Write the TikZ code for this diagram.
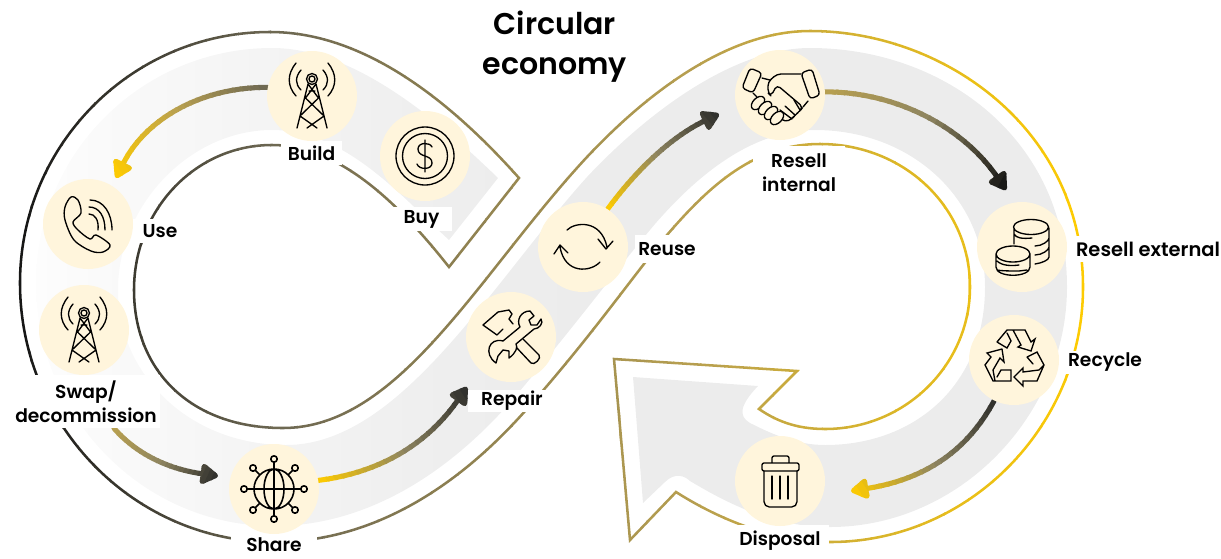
\documentclass[tikz,border=0pt]{standalone}
\usepackage{fontspec}
\setmainfont{Poppins}
\newfontfamily\lab{Poppins SemiBold}
\usetikzlibrary{arrows.meta,calc}
\pgfdeclarelayer{bg}\pgfsetlayers{bg,main}
\definecolor{cream}{HTML}{FFF5DC}
\definecolor{ga}{HTML}{141414}
\definecolor{gb}{HTML}{6C6752}
\definecolor{gc}{HTML}{B8A050}
\definecolor{gd}{HTML}{FFCC00}
\definecolor{gm}{HTML}{8E8560}
\definecolor{gk}{HTML}{2E2E2C}
\definecolor{k1}{HTML}{FDFDFD}\definecolor{k2}{HTML}{FAFAFA}\definecolor{k3}{HTML}{F4F4F4}\definecolor{k4}{HTML}{EEEEEE}\definecolor{k5}{HTML}{ECECEC}
\pgfdeclarehorizontalshading{bandsh}{100bp}{color(0bp)=(k1);color(25bp)=(k1);color(28bp)=(k2);color(36bp)=(k3);color(45bp)=(k4);color(52bp)=(k5);color(100bp)=(k5)}
\def\outlinep{(519,178) .. controls (445,95) and (360,32) .. (270,32) .. controls (132,32) and (20,145) .. (20,283) .. controls (20,426) and (135,542) .. (274,542) .. controls (370,542) and (455,490) .. (526,410) .. controls (590,338) and (630,280) .. (667,235) .. controls (710,185) and (755,144) .. (820,144) .. controls (903,144) and (970,206) .. (970,287) .. controls (970,365) and (905,429) .. (825,429) .. controls (795,429) and (775,420) .. (759,409) -- (797,371) -- (614,359) -- (630,540) -- (676,492) .. controls (720,520) and (775,542) .. (830,542) .. controls (970,542) and (1083,425) .. (1083,287) .. controls (1083,130) and (945,31) .. (810,31) .. controls (730,31) and (650,90) .. (587,157) .. controls (480,272) and (400,428) .. (283,428) .. controls (190,428) and (134,370) .. (134,290) .. controls (134,210) and (195,145) .. (272,145) .. controls (340,145) and (400,205) .. (449,267) -- cycle}
\def\bandp{(498,178) .. controls (430,112) and (350,48) .. (272,48) .. controls (142,48) and (36,153) .. (36,283) .. controls (36,417) and (143,526) .. (274,526) .. controls (362,526) and (445,478) .. (514,398) .. controls (578,322) and (616,270) .. (655,224) .. controls (695,178) and (750,130) .. (815,130) .. controls (910,130) and (985,197) .. (985,287) .. controls (985,385) and (915,445) .. (825,445) .. controls (795,445) and (770,433) .. (750,423) .. controls (738,416) and (740,405) .. (758,386) -- (633,377) -- (643,503) -- (665,482) .. controls (675,472) and (685,476) .. (690,481) .. controls (730,505) and (775,527) .. (830,527) .. controls (960,527) and (1067,415) .. (1067,287) .. controls (1067,140) and (945,48) .. (810,48) .. controls (735,48) and (650,110) .. (587,177) .. controls (490,285) and (400,445) .. (286,445) .. controls (190,445) and (118,375) .. (118,290) .. controls (118,205) and (190,130) .. (272,130) .. controls (345,130) and (400,195) .. (449,240) -- cycle}
\newcommand\gradarrow[7]{%
 \foreach \i in {0,...,23}{%
  \pgfmathsetmacro\ta{\i/24-(\i==0)*.3}%
  \pgfmathsetmacro\tb{(\i+1)/24+.01+(\i==23)*.3}%
  \pgfmathsetmacro\p{(\i+.5)/12*100}%
  \pgfmathsetmacro\q{(\i-11.5)/12*100}%
  \begin{scope}
  \coordinate (pa) at ($(#1)!\ta!(#4)$);
  \coordinate (pb) at ($(#1)!\tb!(#4)$);
  \clip ($(pa)!100pt!90:(pb)$) -- ($(pa)!100pt!-90:(pb)$) -- ($(pb)!100pt!90:(pa)$) -- ($(pb)!100pt!-90:(pa)$) -- cycle;
  \ifnum\i<12 \colorlet{fc}{#6!\p!#5}\else\colorlet{fc}{#7!\q!#6}\fi
  \draw[flow,draw=fc] (#1) .. controls (#2) and (#3) .. (#4);
  \end{scope}}}
\tikzset{
 outl/.style={line width=1.9pt,line join=miter},
 flow/.style={line width=3.8pt,line cap=round,-{Triangle[round,length=15pt,width=17pt]}},
 disc/.style={circle,fill=cream,minimum size=67.5pt,inner sep=0pt},
 tag/.style={fill=white,inner sep=0pt,font=\lab\fontsize{14}{18}\selectfont,align=center,text=black},
 ico/.style={line width=1pt,line join=round,line cap=round,draw=black},
 tower/.pic={\draw[ico] (0,-17) circle (5.5) (0,-17) circle (3);
  \draw[ico] (-4,-12) -- (-15,32) (4,-12) -- (15,32) (-4,-12) -- (6.5,2) -- (-12,20) (4,-12) -- (-6.5,2) -- (12,20) (-12,20) -- (5,32) (12,20) -- (-5,32) (-3,-5)--(3,-5);
  \draw[ico] (-16,-33) .. controls (-25,-22) and (-25,-10) .. (-16,0) (16,-33) .. controls (25,-22) and (25,-10) .. (16,0) (-11,-26) .. controls (-17,-19) and (-17,-12) .. (-11,-6) (11,-26) .. controls (17,-19) and (17,-12) .. (11,-6);},
 dollar/.pic={\draw[ico] (0,0) circle (29) (0,0) circle (22.5);
  \draw[ico] (7,-9) .. controls (5,-14) and (-7,-14) .. (-7,-7) .. controls (-7,2) and (7,-2) .. (7,7) .. controls (7,14) and (-6,14) .. (-8,8) (0,-16) -- (0,16);},
 phone/.pic={\draw[ico] plot[smooth cycle,tension=.55] coordinates {(-23,-17)(-17,-27)(-10,-24)(-7,-11)(-15,-2)(-10,6)(2,15)(8,11)(22,21)(15,28)(3,27)(-14,16)(-23,-4)};
  \draw[ico] (2,-24) .. controls (16,-24) and (24,-10) .. (24,6) (1,-17) .. controls (11,-17) and (17,-8) .. (17,6) (1,-10) .. controls (7,-10) and (11,-4) .. (10,6);},
 globe/.pic={\draw[ico,line width=1.2pt] (0,0) circle (20) (0,0) ellipse (10 and 20) (0,-30) -- (0,30) (-30,0) -- (30,0) (-14,-14) -- (-21,-21) (14,-14) -- (21,-21) (-14,14) -- (-21,21) (14,14) -- (21,21);
  \foreach \a/\b in {0/-30,0/30,-30/0,30/0,-21/-21,21/-21,-21/21,21/21}{\draw[ico,line width=1.2pt,fill=cream] (\a,\b) circle (3.2);}},
 tools/.pic={\draw[ico] (-8,-8) -- (-14,-2) -- (-28,-12) -- (-13,-25) -- (-2,-27) -- (1,-23) -- (-2,-18) -- (2,-13) (5,10) -- (20,26) .. controls (23,29) and (31,21) .. (28,18) -- (12,2);
  \draw[ico,fill=cream] (19,-26) .. controls (10,-26) and (5,-17) .. (9,-10) -- (-8,4) .. controls (-22,0) and (-28,17) .. (-15,26) -- (-13,19) -- (-8,13) -- (-2,14) -- (-2,21) .. controls (5,16) and (7,10) .. (5,7) -- (23,-8) .. controls (28,-8) and (33,-14) .. (30,-18) -- (26,-12) -- (20,-12) -- (18,-17) -- (23,-21) -- cycle;},
 loops/.pic={\draw[ico] (-16,-17) .. controls (-8,-25) and (18,-28) .. (24,0) (15,-8) -- (23,2) -- (30,-6) (17,15) .. controls (8,25) and (-18,28) .. (-23,0) (-29,7) -- (-23,-2) -- (-15,6);},
 hands/.pic={\draw[ico,rounded corners=2.5] (-30,-27) -- (-18,-22) -- (-27,-2) -- (-38,-7) -- cycle (21,-22) -- (32,-26) -- (40,0) -- (30,4) -- cycle;
  \draw[ico,rounded corners=3] (21,-21) -- (-3,-21) -- (-12,-13) -- (-12,-2) -- (-9,1) -- (-3,-10) -- (23,12) -- (20,16) -- (15,20) -- (12,24) -- (5,27) -- (0,23);
  \draw[ico] (-18,-17) -- (-10,-15) (23,12) -- (28,6) (-27,-2) -- (-23,2) (14,5) -- (20,15) (5,11) -- (15,20) (0,15) -- (12,24);
  \foreach \a/\b in {-22/8,-15/13,-9/18,-3/23}{\draw[ico,rotate around={45:(\a,\b)},fill=cream] (\a,\b) ellipse (8 and 5);}},
 coinst/.pic={\draw[ico] (9,-20) ellipse (17.5 and 7.5) (-8,-19) -- (-8,-3) (27,-19) -- (27,10) .. controls (27,13) and (20,16) .. (13,17) (13,-1) .. controls (20,-1) and (27,-6) .. (27,-9) (13,8) .. controls (20,8) and (27,3) .. (27,0) (-8,-13) .. controls (-6,-9) and (0,-8) .. (10,-9);
  \draw[ico] (-9,7) ellipse (17 and 8) (-26,7) -- (-26,20) .. controls (-26,31) and (8,31) .. (8,20) -- (8,7) (-25,14) .. controls (-20,19) and (-10,19) .. (-3,18) (-25,23) .. controls (-20,24) and (-10,24) .. (-3,24)(-3,24)--(5,23);},
 recyc/.pic={\draw[ico,line join=miter] (-17,-18) -- (-7,-30) -- (11,-30) -- (17,-18) -- (21,-21) -- (17,-9) -- (4,-13) -- (7,-15) -- (-1,-30) (-17,-18) -- (-7,-12) -- (-3,-19) -- (-7,-27);
  \draw[ico,line join=miter] (13,-3) -- (23,-8) -- (30,5) -- (23,21) -- (9,21) -- (9,26) -- (0,17) -- (9,8) -- (9,12) -- (25,10) -- (30,5) (13,-3) -- (19,4);
  \draw[ico,line join=miter] (-12,-11) -- (-27,-7) -- (-23,-3) -- (-29,5) -- (-21,21) -- (-3,21) -- (-3,10) -- (-13,10) -- (-17,17) (-12,-11) -- (-10,2) -- (-14,-2) -- (-21,10) -- (-19,21);},
 trashc/.pic={\draw[ico,rounded corners=1.5] (-18,-18) rectangle (19,-10) (-8,-18) -- (-8,-25) -- (9,-25) -- (9,-18);
  \draw[ico,rounded corners=4] (-16,-10) -- (-16,26) -- (17,26) -- (17,-10);
  \draw[ico] (-8,-5) -- (-8,18) (0,-5) -- (0,18) (8,-5) -- (8,18);},
}
\begin{document}
\begin{tikzpicture}[x=.75pt,y=-.75pt]
\useasboundingbox (0,0) rectangle (1221,558);
% labels with their white boxes
\node[tag,minimum width=45.8pt,minimum height=18pt] (buildl) at (311.5,153) {Build};
\node[tag,minimum width=45.8pt,minimum height=18pt] (buyl) at (421.5,219) {Buy};
\node[tag,minimum width=45pt,minimum height=18pt] (usel) at (160,231) {Use};
\node[tag,minimum width=111pt,minimum height=39.8pt] (swapl) at (86,401.5) {Swap/\\decommission};
\node[tag,minimum width=64pt,minimum height=14pt] (sharel) at (274,545) {Share};
\node[tag,minimum width=66pt,minimum height=17pt] (repairl) at (512,401) {Repair};
\node[tag,minimum width=48pt,minimum height=21pt] (reusel) at (667,249) {Reuse};
\node[tag,minimum width=69pt,minimum height=40pt] (resinl) at (799,173) {Resell\\internal};
\node[tag,minimum width=109pt,minimum height=20pt,font=\lab\fontsize{14.6}{18}\selectfont] (resexl) at (1148,249) {Resell external};
\node[tag,minimum width=58pt,minimum height=17pt] (recl) at (1105,362.5) {Recycle};
\node[tag,minimum width=74pt,minimum height=24pt] (displ) at (780,541) {Disposal};
\node[font=\lab\fontsize{22.5}{30}\selectfont,align=center,text=black,inner sep=0pt] (title) at (555,47) {Circular\\economy};
% discs
\node[disc] (build) at (312,96) {};
\node[disc] (buy) at (425,156) {};
\node[disc] (use) at (88,224) {};
\node[disc] (swap) at (84,330) {};
\node[disc] (share) at (274,489) {};
\node[disc] (repair) at (511,337) {};
\node[disc] (reuse) at (583,247) {};
\node[disc] (resin) at (780,95) {};
\node[disc] (resex) at (1022,247) {};
\node[disc] (rec) at (1014,360) {};
\node[disc] (disp) at (780,481) {};
\pic at (build) {tower};
\pic at (swap) {tower};
\pic at (buy) {dollar};
\pic at (use) {phone};
\pic at (share) {globe};
\pic at (repair) {tools};
\pic at (reuse) {loops};
\pic at (resin) {hands};
\pic at (resex) {coinst};
\pic at (rec) {recyc};
\pic at (disp) {trashc};
% free ends of the flows
\coordinate (e1) at (116,178);
\coordinate (s2) at ($(swapl.south)+(28,0)$);
\coordinate (e2) at (218,476);
\coordinate (e3) at (467,387);
\coordinate (e4) at (719,114);
\coordinate (e5) at (1006,190);
\coordinate (e6) at (851,491);
\begin{pgfonlayer}{bg}
\shade[shading=bandsh] \bandp;
\foreach \xa/\xb/\ca/\cb in {14/270/ga/gb,270/700/gb/gc,700/1090/gc/gd}{
 \foreach \i in {0,...,15}{
  \pgfmathsetmacro\xl{\xa+(\xb-\xa)*\i/16}
  \pgfmathsetmacro\xr{\xa+(\xb-\xa)*(\i+1)/16+1}
  \pgfmathsetmacro\p{(\i+.5)/16*100}
  \begin{scope}
  \clip (\xl,0) rectangle (\xr,558);
  \draw[outl,draw=\cb!\p!\ca] \outlinep;
  \end{scope}
 }}
\gradarrow{build.169}{200,87}{145,120}{e1}{gb}{gc}{gd}
\gradarrow{s2}{140,458}{175,470}{e2}{gc}{gm}{gk}
\gradarrow{share.11}{385,472}{430,440}{e3}{gd}{gm}{gk}
\gradarrow{reuse.57}{640,165}{675,135}{e4}{gd}{gm}{gk}
\gradarrow{resin.4}{900,92}{965,130}{e5}{gc}{gm}{ga}
\gradarrow{rec.244}{965,455}{920,480}{e6}{gk}{gm}{gd}
\end{pgfonlayer}
\end{tikzpicture}
\end{document}
